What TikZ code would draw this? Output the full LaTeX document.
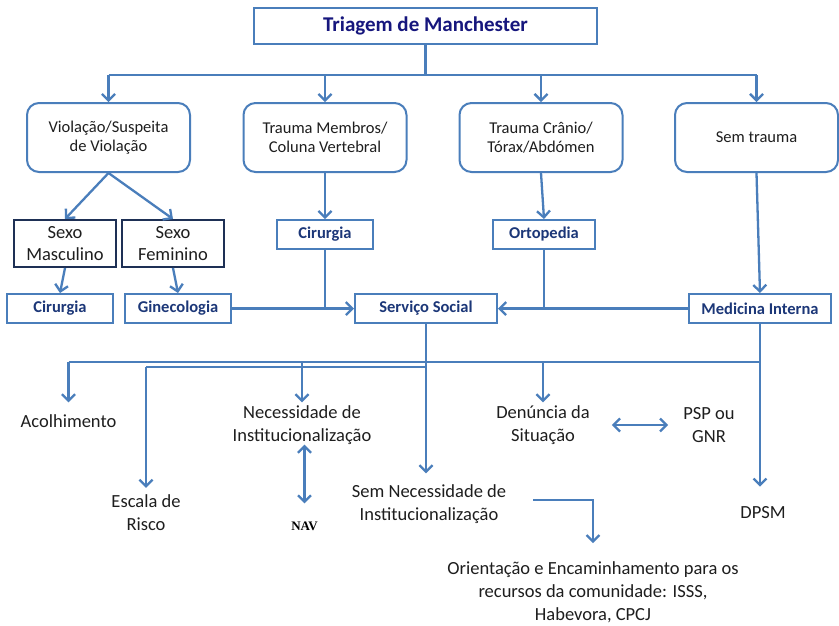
\documentclass[tikz,border=0pt]{standalone}
\usepackage{fontspec}
\setmainfont{Carlito}
\newfontfamily\navfont{Liberation Serif}
\usetikzlibrary{arrows.meta}
\definecolor{lb}{RGB}{74,126,187}
\definecolor{db}{RGB}{28,55,120}
\definecolor{nv}{RGB}{22,22,125}
\definecolor{sx}{RGB}{30,48,85}
\definecolor{tx}{RGB}{30,30,30}
\begin{document}
\begin{tikzpicture}[x=1pt,y=-1pt,
  line/.style={draw=lb, line width=2.3pt},
  arr/.style={line, -{Straight Barb[length=6.5pt,width=13pt]}},
  darr/.style={line, {Straight Barb[length=6.5pt,width=13pt]}-{Straight Barb[length=6.5pt,width=13pt]}},
  tbox/.style={draw=lb, line width=2pt, minimum width=343pt, minimum height=36pt, font=\fontsize{21}{25}\selectfont\bfseries, text=nv},
  rbox/.style={draw=lb, line width=2pt, rounded corners=12pt, minimum width=163pt, minimum height=69pt, align=center, font=\fontsize{16.5}{19}\selectfont, text=tx},
  sbox/.style={draw=sx, line width=2pt, minimum width=102pt, minimum height=47pt, align=center, inner sep=0pt, font=\fontsize{18.5}{22}\selectfont, text=tx},
  bbox/.style={draw=lb, line width=2pt, minimum height=29pt, inner sep=0pt, font=\fontsize{16.5}{19}\selectfont\bfseries, text=db},
  txt/.style={align=center, inner sep=0pt, font=\fontsize{18.5}{23}\selectfont, text=tx}
]
\fill[white] (0,0) rectangle (839,625);
\useasboundingbox (0,0) rectangle (839,625);

% nodes
\node[tbox] (t) at (425.5,26) {Triagem de Manchester};
\node[rbox] (b1) at (108.5,137.5) {Violação/Suspeita\\de Violação};
\node[rbox] (b2) at (325,137.5) {Trauma Membros/\\Coluna Vertebral};
\node[rbox] (b3) at (541,137.5) {Trauma Crânio/\\Tórax/Abdómen};
\node[rbox] (b4) at (756.5,137.5) {Sem trauma};
\node[sbox] (sm) at (65,243.5) {Sexo\\Masculino};
\node[sbox] (sf) at (173,243.5) {Sexo\\Feminino};
\node[bbox, minimum width=106pt] (c1) at (60,308.5) {Cirurgia};
\node[bbox, minimum width=106pt] (gin) at (178,308.5) {Ginecologia};
\node[bbox, minimum width=96pt] (c2) at (325,234.5) {Cirurgia};
\node[bbox, minimum width=102pt] (ort) at (544,234.5) {Ortopedia};
\node[bbox, minimum width=142pt] (ss) at (426,308.5) {Serviço Social};
\node[bbox, minimum width=142pt] (mi) at (760,308.5) {Medicina Interna};

\node[txt] (acol) at (68.5,421) {Acolhimento};
\node[txt] (nec) at (302,425) {Necessidade de\\Institucionalização};
\node[txt] (esc) at (146,513) {Escala de\\Risco};
\node[inner sep=0pt, font=\navfont\bfseries\fontsize{13}{15}\selectfont, text=black] (nav) at (304.5,526) {NAV};
\node[txt] (snn) at (429,504) {Sem Necessidade de\\Institucionalização};
\node[txt] (den) at (543,425) {Denúncia da\\Situação};
\node[txt] (psp) at (709,425) {PSP ou\\GNR};
\node[txt] (dpsm) at (763,513) {DPSM};
\node[txt] (ori) at (593,592) {Orientação e Encaminhamento para os\\recursos da comunidade: ISSS,\\Habevora, CPCJ};

% top connectors
\coordinate (h0) at (425.5,75);
\draw[line] (t.south) -- (h0);
\draw[line] (b1.north |- h0) -- (b4.north |- h0);
\foreach \n in {b1,b2,b3,b4} \draw[arr] (\n.north |- h0) -- (\n.north);
\draw[arr] (b1.south) -- (sm.north);
\draw[arr] (b1.south) -- (sf.north);
\draw[arr] (sm.south) -- (c1.north);
\draw[arr] (sf.south) -- (gin.north);
\draw[arr] (b2.south) -- (c2.north);
\draw[arr] (b3.south) -- (ort.north);
\draw[arr] (b4.south) -- (mi.north);
\draw[arr] (gin.east) -- (ss.west);
\draw[line] (c2.south) -- (c2.south |- ss.west);
\draw[arr] (ort.south) -- (ort.south |- ss.east) -- (ss.east);
\draw[line] (mi.west) -- (ort.south |- mi.west);

% bottom connectors
\coordinate (h1) at (426,362);
\coordinate (h2) at (426,367);
\draw[arr, shorten >=11pt] (ss.south) -- (ss.south |- snn.north);
\draw[line] (acol.north |- h1) -- (mi.south |- h1);
\draw[line] (esc.north |- h2) -- (h2);
\draw[arr, shorten >=12pt] (acol.north |- h1) -- (acol.north);
\draw[arr, shorten >=3pt] (nec.north |- h1) -- (nec.north);
\draw[arr, shorten >=3pt] (den.north |- h1) -- (den.north);
\draw[arr, shorten >=7pt] (esc.north |- h2) -- (esc.north);
\draw[arr, shorten >=20pt] (mi.south) -- (mi.south |- dpsm.north);
\draw[darr, shorten >=18pt] (nav.north |- nec.south) -- (nav.north);
\draw[darr, shorten <=22pt, shorten >=15pt] (den.east) -- (psp.west);
\draw[arr, shorten <=27pt, shorten >=18pt] ([yshift=4pt]snn.east) -| (ori.north);
\end{tikzpicture}
\end{document}
